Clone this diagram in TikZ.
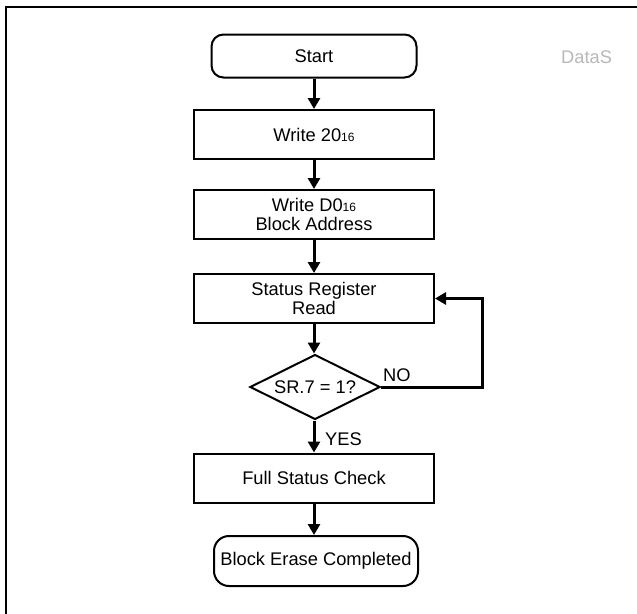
\documentclass[tikz,border=0pt]{standalone}
\usepackage{fontspec}
\setmainfont{Liberation Sans}
\usetikzlibrary{arrows.meta,shapes.geometric}
\newcommand{\subsx}[1]{{\fontsize{12}{12}\selectfont #1}}
\tikzset{
  txt/.style={font=\fontsize{18.3}{19.5}\selectfont},
  box/.style={draw, line width=2pt, minimum width=240pt, minimum height=49pt, inner sep=0pt, align=center, txt},
  term/.style={box, rounded corners=12pt, minimum width=205pt, minimum height=43pt},
  dec/.style={draw, line width=2pt, diamond, aspect=2, minimum width=130pt, minimum height=65pt, inner sep=0pt, txt},
  flow/.style={line width=3pt, -{Triangle[length=11pt,width=12pt]}},
  lbl/.style={txt, inner sep=0pt}
}
\begin{document}
\begin{tikzpicture}[x=1pt,y=-1pt]
\useasboundingbox (0,0) rectangle (637,613);
\draw[line width=2.6pt] (6,620) -- (6,7) -- (645,7);
\node[lbl, text=black!28, anchor=west] (ds) at (561,57) {DataS};
\node[term] (start) at (314,56) {Start};
\node[box] (w20) at (314,134.5) {Write 20\subsx{16}};
\node[box] (wd0) at (314,214.5) {Write D0\subsx{16}\\Block Address};
\node[box] (srr) at (314,298.5) {Status Register\\Read};
\node[dec] (dec) at (315,387) {SR.7 = 1?};
\node[box] (fsc) at (314,478) {Full Status Check};
\node[term, minimum width=204pt, minimum height=50pt, rounded corners=15pt] (done) at (316,561) {Block Erase Completed};
\coordinate (lr) at (482,387);
\coordinate (ur) at (482,298.5);
\draw[flow] (start.south -| w20.north) -- (w20.north);
\draw[flow] (w20) -- (wd0);
\draw[flow] (wd0) -- (srr);
\draw[flow] (srr.south) -- (srr.south |- dec.north);
\draw[flow] (dec.south -| fsc.north) -- (fsc.north);
\draw[flow] (fsc.south) -- (fsc.south |- done.north);
\draw[flow] (dec.east) -- (lr) -- (ur) -- (srr.east);
\node[lbl, anchor=south west] (no) at (383,382) {NO};
\node[lbl, anchor=west] (yes) at (325,439) {YES};
\end{tikzpicture}
\end{document}
